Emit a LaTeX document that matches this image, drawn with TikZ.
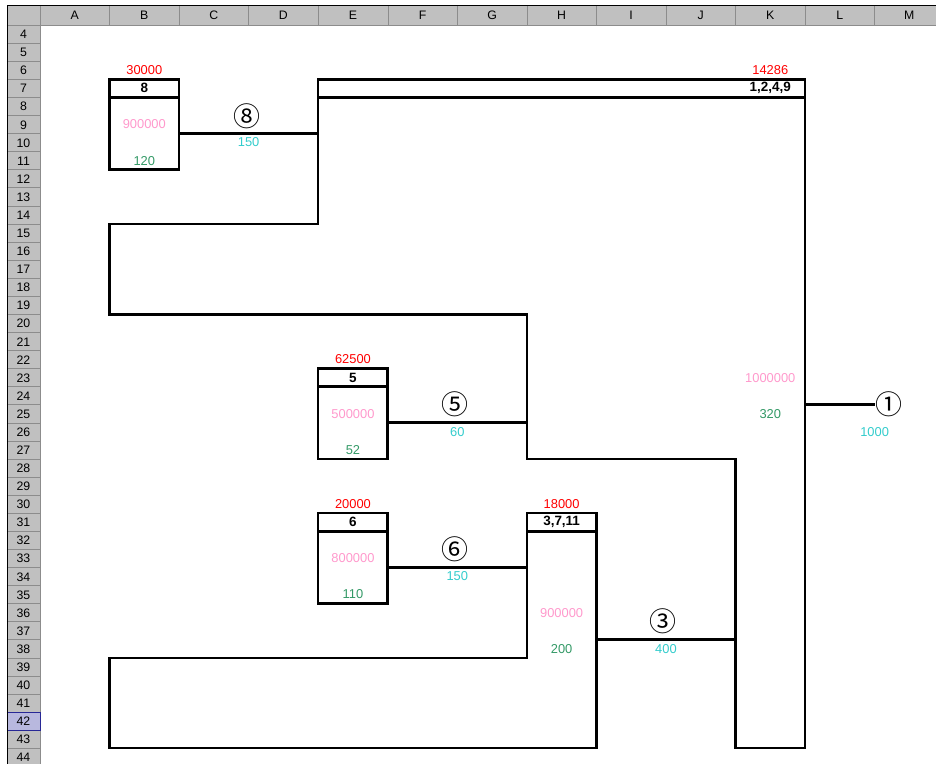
\documentclass[tikz,border=0pt]{standalone}
\usepackage{fontspec}
\setmainfont{Liberation Sans}
\newfontfamily\circfont{Noto Sans CJK JP}
\usetikzlibrary{calc}
\definecolor{xlred}{RGB}{255,0,0}
\definecolor{xlpink}{RGB}{255,153,204}
\definecolor{xlteal}{RGB}{51,204,204}
\definecolor{xlgreen}{RGB}{51,153,102}
\definecolor{hdrgray}{RGB}{192,192,192}
\definecolor{hdrline}{RGB}{140,140,140}
\definecolor{selfill}{RGB}{184,184,222}
\definecolor{selline}{RGB}{40,40,150}
\tikzset{
  wire/.style={line width=2.2pt, line join=miter},
  hdrtext/.style={inner sep=0pt, font=\fontsize{10.5}{12}\selectfont},
  cellval/.style={inner sep=0pt, font=\fontsize{11}{13}\selectfont},
  sizeval/.style={cellval, text=xlred},
  rowsval/.style={cellval, text=xlpink},
  costval/.style={cellval, text=xlgreen},
  flowval/.style={cellval, text=xlteal},
  tableid/.style={cellval, font=\fontsize{11.5}{13}\selectfont\bfseries},
  joinno/.style={inner sep=0pt, font=\circfont\fontsize{23}{25}\selectfont}
}

\begin{document}
\begin{tikzpicture}[x={(2.0865cm,0)}, y={(0,-0.5424cm)}]
\useasboundingbox (-0.5751,2.6173) rectangle (12.883,44.874);
\clip (-0.5751,2.6173) rectangle (12.883,44.874);
% sheet frame
\fill[hdrgray] (-0.4745,2.894) rectangle (13,4);
\fill[hdrgray] (-0.4745,4) rectangle (0,45);
\fill[selfill] (-0.4745,42) rectangle (0,43);
\foreach \c [count=\i from 0] in {A,B,C,D,E,F,G,H,I,J,K,L,M} {
  \draw[hdrline] (\i,2.894) -- (\i,4);
  \node[hdrtext] (col\c) at (\i+0.5,3.45) {\c};
}
\foreach \r in {4,...,44} {
  \draw[hdrline] (-0.4745,\r+1) -- (0,\r+1);
  \node[hdrtext] (row\r) at (-0.2372,\r+0.52) {\r};
}
\draw[hdrline] (-0.4745,4) -- (13,4) (0,2.894) -- (0,45);
\draw[selline, line width=0.8pt] (-0.4745,42) -- (0,42) -- (0,43) -- (-0.4745,43);
\draw[line width=0.8pt] (-0.4745,45) -- (-0.4745,2.894) -- (13,2.894);

% tables
\draw[wire] (1,7) rectangle (2,12) (1,8) -- (2,8);
\draw[wire] (4,7) -- (11,7) -- (11,44) -- (10,44) -- (10,28) -- (7,28) -- (7,20)
  -- (1,20) -- (1,15) -- (4,15) -- cycle (4,8) -- (11,8);
\draw[wire] (4,23) rectangle (5,28) (4,24) -- (5,24);
\draw[wire] (4,31) rectangle (5,36) (4,32) -- (5,32);
\draw[wire] (7,31) -- (8,31) -- (8,44) -- (1,44) -- (1,39) -- (7,39) -- cycle (7,32) -- (8,32);

% table texts
\node[sizeval] (s8) at (1.5,6.5) {30000};
\node[tableid] (t8) at (1.5,7.5) {8};
\node[rowsval] (r8) at (1.5,9.5) {900000};
\node[costval] (c8) at (1.5,11.5) {120};
\node[sizeval] (s1) at (10.5,6.5) {14286};
\node[tableid] (t1) at (10.5,7.5) {1,2,4,9};
\node[rowsval] (r1) at (10.5,23.5) {1000000};
\node[costval] (c1) at (10.5,25.5) {320};
\node[sizeval] (s5) at (4.5,22.5) {62500};
\node[tableid] (t5) at (4.5,23.5) {5};
\node[rowsval] (r5) at (4.5,25.5) {500000};
\node[costval] (c5) at (4.5,27.5) {52};
\node[sizeval] (s6) at (4.5,30.5) {20000};
\node[tableid] (t6) at (4.5,31.5) {6};
\node[rowsval] (r6) at (4.5,33.5) {800000};
\node[costval] (c6) at (4.5,35.5) {110};
\node[sizeval] (s3) at (7.5,30.5) {18000};
\node[tableid] (t3) at (7.5,31.5) {3,7,11};
\node[rowsval] (r3) at (7.5,36.5) {900000};
\node[costval] (c3) at (7.5,38.5) {200};

% joins
\coordinate (j8a) at (2,10);  \coordinate (j8b) at (4,10);
\coordinate (j5a) at (5,26);  \coordinate (j5b) at (7,26);
\coordinate (j6a) at (5,34);  \coordinate (j6b) at (7,34);
\coordinate (j3a) at (8,38);  \coordinate (j3b) at (10,38);
\coordinate (j1a) at (11,25);
\draw[wire] (j8a) -- (j8b);
\draw[wire] (j5a) -- (j5b);
\draw[wire] (j6a) -- (j6b);
\draw[wire] (j3a) -- (j3b);
\node[joinno] (n8) at (2.972,9.03) {⑧};
\node[joinno] (n5) at (5.967,24.98) {⑤};
\node[joinno] (n6) at (5.967,33) {⑥};
\node[joinno] (n3) at (8.962,37) {③};
\node[joinno] (n1) at (12.2,24.95) {①};
\draw[wire] (j1a) -- (j1a -| n1.west);
\node[flowval] (f8) at (3,10.5) {150};
\node[flowval] (f5) at (6,26.5) {60};
\node[flowval] (f6) at (6,34.5) {150};
\node[flowval] (f3) at (9,38.5) {400};
\node[flowval] (f1) at (12,26.5) {1000};
\end{tikzpicture}
\end{document}
